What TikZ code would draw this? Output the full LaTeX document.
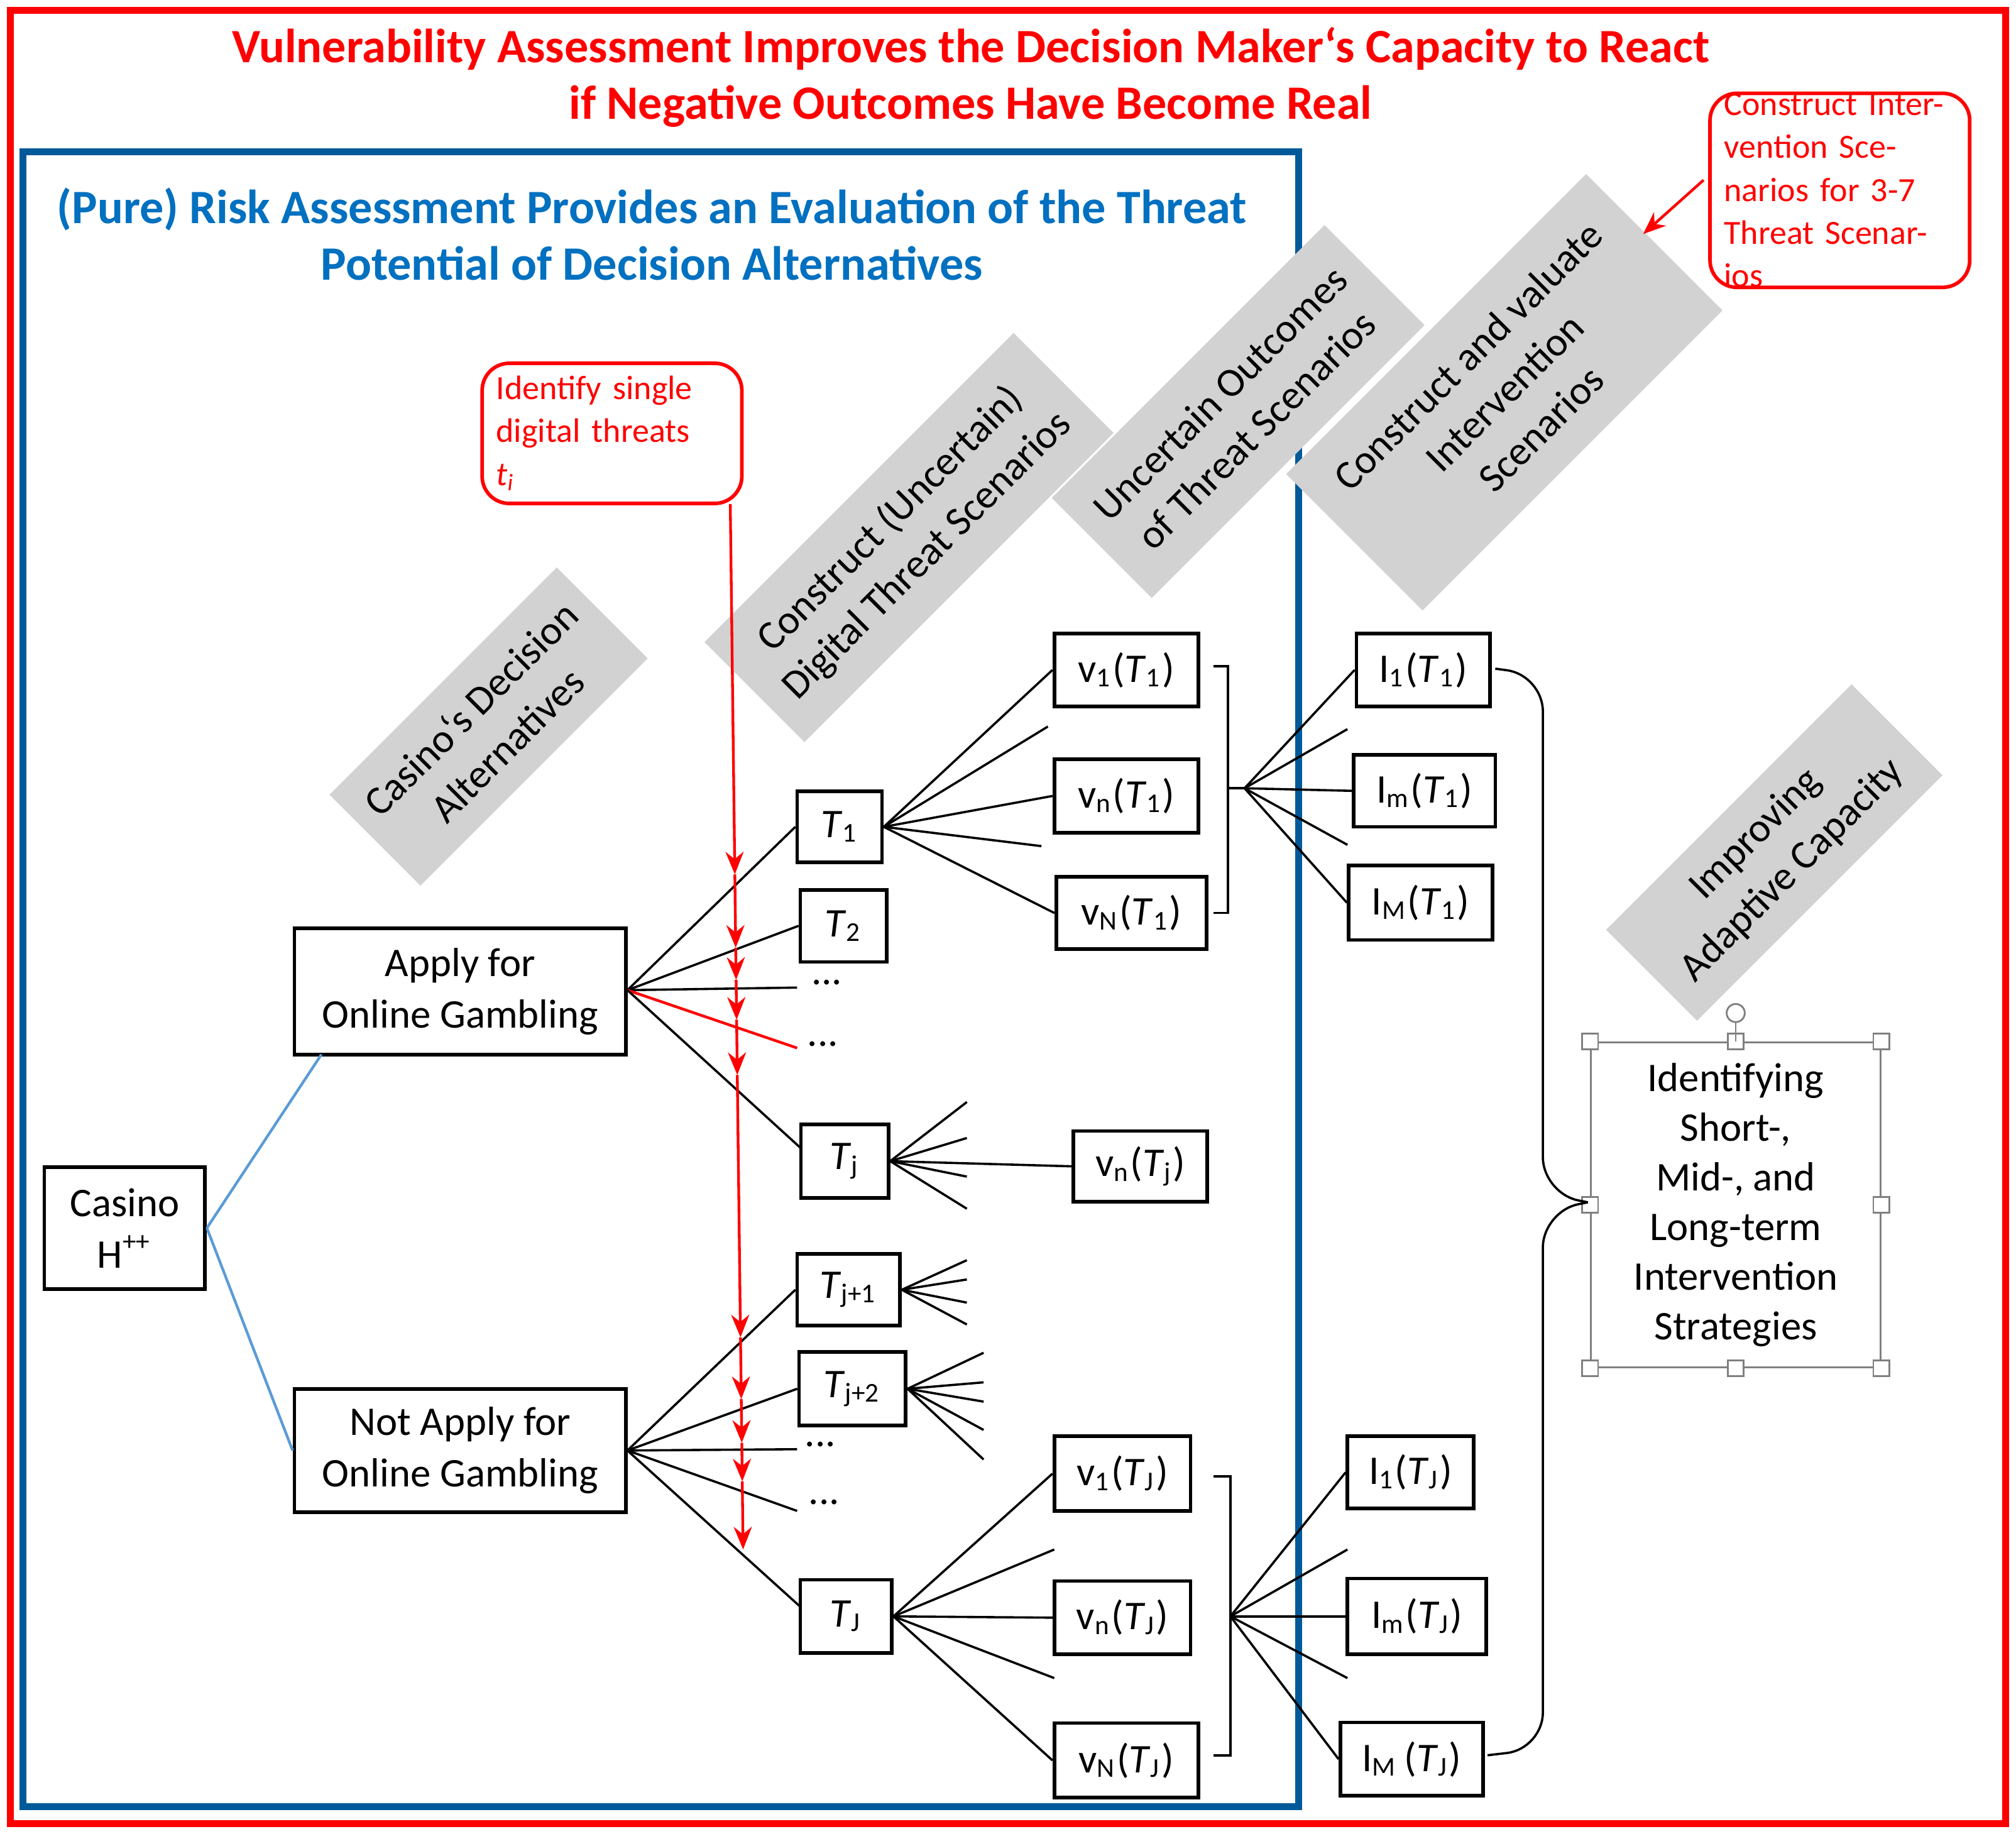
\documentclass[tikz,border=0pt]{standalone}
\usepackage{fontspec}
\setmainfont{Carlito}
\usetikzlibrary{arrows.meta}
\newcommand\sub[1]{\textsubscript{#1}}
\newcommand\ti[1]{\textit{#1}}
\definecolor{rblue}{RGB}{0,112,192}
\definecolor{lblue}{RGB}{91,155,213}
\definecolor{banner}{RGB}{210,210,210}
\begin{document}
\begin{tikzpicture}[x=0.01cm,y=-0.01cm,
  sz/.style 2 args={minimum width=#1*0.01cm,minimum height=#2*0.01cm},
  box/.style={draw,thick,fill=white,inner sep=0pt,font=\fontsize{9}{11.4}\selectfont,align=center},
  ban/.style={fill=banner,rotate=45,align=center,font=\fontsize{9}{11.4}\selectfont,inner sep=0pt},
  rbox/.style={draw=red,thick,rounded corners=6pt,text=red,align=left,font=\fontsize{7.5}{9.5}\selectfont,inner sep=0pt},
  br/.style={line width=0.5pt},
  ra/.style={red,line width=0.6pt,-{Stealth[length=5pt,width=4pt]}},
  hd/.style={draw=gray,fill=white,minimum size=3.5pt,inner sep=0pt}]
\useasboundingbox (0,0) rectangle (1568,1426);
% frames
\draw[red,line width=1.5pt] (8,8) rectangle (1560,1418);
\draw[rblue!80!black,line width=1.5pt] (18,118) rectangle (1010,1405);
\node[text=red,font=\bfseries\fontsize{10.6}{12.5}\selectfont,align=center] (title) at (755,60) {Vulnerability Assessment Improves the Decision Maker‘s Capacity to React\\if Negative Outcomes Have Become Real};
\node[text=rblue,font=\bfseries\fontsize{10.6}{12.5}\selectfont,align=center] (btitle) at (507,182) {(Pure) Risk Assessment Provides an Evaluation of the Threat\\Potential of Decision Alternatives};
% banners
\node[ban,sz={250}{100}] (b1) at (380,565) {Casino‘s Decision\\Alternatives};
\node[ban,sz={340}{110}] (b2) at (707,418) {Construct (Uncertain)\\Digital Threat Scenarios};
\node[ban,sz={300}{110}] (b3) at (963,320) {Uncertain Outcomes\\of Threat Scenarios};
\node[ban,sz={330}{150}] (b4) at (1170,305) {Construct and valuate\\Intervention\\Scenarios};
\node[ban,sz={270}{100}] (b5) at (1380,663) {Improving\\Adaptive Capacity};
% red boxes
\node[rbox,sz={202}{140},text width=1.8cm] (rb1) at (1431,148) {Construct Inter-\\vention Sce-\\narios for 3-7\\Threat Scenarios};
\draw[ra] (1325,140) -- (1278,182);
\node[rbox,sz={202}{109},text width=1.8cm] (rb2) at (476,337) {Identify single\\digital threats\\\ti{t\sub{i}}};
% nodes
\node[box,sz={125}{95}] (casino) at (97,955) {Casino\\H\textsuperscript{++}};
\node[box,sz={258}{98}] (apply) at (358,771) {Apply for\\Online Gambling};
\node[box,sz={258}{96}] (napply) at (358,1128) {Not Apply for\\Online Gambling};
\node[box,sz={66}{55}] (T1) at (653,643) {\ti{T}\sub{1}};
\node[box,sz={67}{56}] (T2) at (656,720) {\ti{T}\sub{2}};
\node[box,sz={68}{57}] (Tj) at (657,903) {\ti{T}\sub{j}};
\node[box,sz={80}{56}] (Tj1) at (660,1003) {\ti{T}\sub{j+1}};
\node[box,sz={83}{57}] (Tj2) at (663,1080) {\ti{T}\sub{j+2}};
\node[box,sz={71}{57}] (TJ) at (658,1257) {\ti{T}\sub{J}};
\node[font=\fontsize{9}{11}\selectfont] (d1) at (643,764) {...};
\node[font=\fontsize{9}{11}\selectfont] (d2) at (640,812) {...};
\node[font=\fontsize{9}{11}\selectfont] (d3) at (638,1123) {...};
\node[font=\fontsize{9}{11}\selectfont] (d4) at (641,1168) {...};
\node[box,sz={112}{57}] (v1a) at (876,521) {v\sub{1}(\ti{T}\sub{1})};
\node[box,sz={112}{57}] (vna) at (876,619) {v\sub{n}(\ti{T}\sub{1})};
\node[box,sz={117}{56}] (vNa) at (880,710) {v\sub{N}(\ti{T}\sub{1})};
\node[box,sz={104}{55}] (vnj) at (887,907) {v\sub{n}(\ti{T}\sub{j})};
\node[box,sz={106}{58}] (v1b) at (873,1146) {v\sub{1}(\ti{T}\sub{J})};
\node[box,sz={106}{57}] (vnb) at (873,1258) {v\sub{n}(\ti{T}\sub{J})};
\node[box,sz={112}{58}] (vNb) at (876,1369) {v\sub{N}(\ti{T}\sub{J})};
\node[box,sz={104}{57}] (I1a) at (1107,521) {I\sub{1}(\ti{T}\sub{1})};
\node[box,sz={110}{56}] (Ima) at (1108,615) {I\sub{m}(\ti{T}\sub{1})};
\node[box,sz={112}{58}] (IMa) at (1105,702) {I\sub{M}(\ti{T}\sub{1})};
\node[box,sz={98}{56}] (I1b) at (1097,1145) {I\sub{1}(\ti{T}\sub{J})};
\node[box,sz={108}{59}] (Imb) at (1102,1257) {I\sub{m}(\ti{T}\sub{J})};
\node[box,sz={111}{57}] (IMb) at (1098,1368) {I\sub{M}\,(\ti{T}\sub{J})};
\node[draw=gray,sz={225}{253},align=center,font=\fontsize{9}{11}\selectfont] (strat) at (1350,937) {Identifying\\Short-,\\Mid-, and\\Long-term\\Intervention\\Strategies};
\foreach \a in {north west,north,north east,east,south east,south,south west,west}
  \node[hd] at (strat.\a) {};
\draw[gray] (strat.north) -- ++(0,-22) node[draw=gray,circle,fill=white,inner sep=0pt,minimum size=4pt] {};
% casino links
\draw[lblue,line width=0.6pt] (casino.east) -- (250,820);
\draw[lblue,line width=0.6pt] (casino.east) -- (napply.west);
% apply branches
\coordinate (ap) at (488,770);
\draw[br] (ap) -- (T1.west);
\draw[br] (ap) -- (T2.west);
\draw[br] (ap) -- (620,768);
\draw[red,line width=0.6pt] (ap) -- (620,815);
\draw[br] (ap) -- (623,893);
\coordinate (np) at (488,1128);
\draw[br] (np) -- (Tj1.west);
\draw[br] (np) -- (Tj2.west);
\draw[br] (np) -- (620,1127);
\draw[br] (np) -- (620,1175);
\draw[br] (np) -- (623,1250);
% fans
\draw[br] (T1.east) -- (v1a.west);
\draw[br] (T1.east) -- (815,565);
\draw[br] (T1.east) -- (vna.west);
\draw[br] (T1.east) -- (810,658);
\draw[br] (T1.east) -- (vNa.west);
\draw[br] (Tj.east) -- (752,857);
\draw[br] (Tj.east) -- (752,885);
\draw[br] (Tj.east) -- (vnj.west);
\draw[br] (Tj.east) -- (752,915);
\draw[br] (Tj.east) -- (752,940);
\foreach \y in {980,995,1013,1030} \draw[br] (Tj1.east) -- (752,\y);
\foreach \y in {1052,1075,1090,1112,1135} \draw[br] (Tj2.east) -- (765,\y);
\draw[br] (TJ.east) -- (v1b.west);
\draw[br] (TJ.east) -- (820,1205);
\draw[br] (TJ.east) -- (vnb.west);
\draw[br] (TJ.east) -- (820,1305);
\draw[br] (TJ.east) -- (vNb.west);
% brackets
\draw[br] (944,518) -- (955,518) -- (955,710) -- (944,710);
\coordinate (ba) at (968,613);
\draw[br] (955,613) -- (ba);
\draw[br] (ba) -- (I1a.west);
\draw[br] (ba) -- (1048,567);
\draw[br] (ba) -- (Ima.west);
\draw[br] (ba) -- (1048,657);
\draw[br] (ba) -- (IMa.west);
\draw[br] (944,1148) -- (957,1148) -- (957,1365) -- (944,1365);
\coordinate (bb) at (957,1257);
\draw[br] (bb) -- (I1b.west);
\draw[br] (bb) -- (1048,1205);
\draw[br] (bb) -- (Imb.west);
\draw[br] (bb) -- (1048,1305);
\draw[br] (bb) -- (IMb.west);
% big brace
\draw[br,rounded corners=8pt] (1163,520) -- (1200,525) -- (1200,928) -- (1235,935);
\draw[br,rounded corners=8pt] (1235,935) -- (1200,942) -- (1200,1360) -- (1157,1365);
% red arrows
\coordinate (r0) at (568,392);
\foreach \y [count=\i] in {680,737,762,793,836,1040,1088,1122,1152,1205}
  \coordinate (r\i) at ({568+(\y-392)*10/815},\y);
\foreach \a/\b in {0/1,1/2,2/3,3/4,4/5,5/6,6/7,7/8,8/9,9/10}
  \draw[ra] (r\a) -- (r\b);
\end{tikzpicture}
\end{document}
